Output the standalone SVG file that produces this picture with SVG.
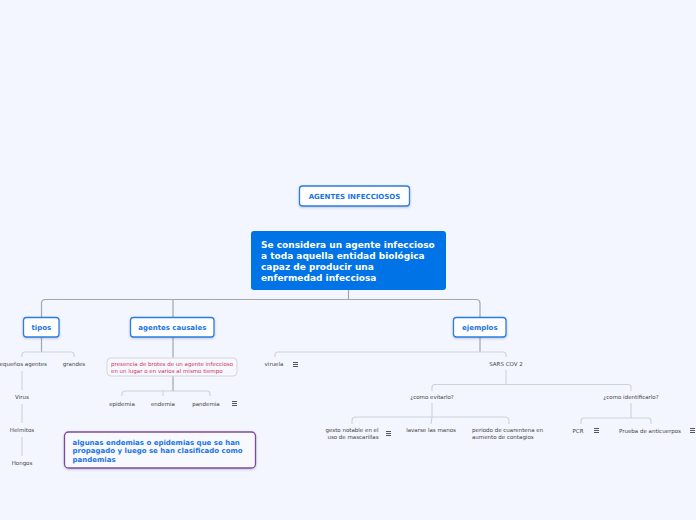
<svg xmlns="http://www.w3.org/2000/svg" width="696" height="520" viewBox="0 0 696 520">
<defs>
<filter id="sh" x="-10%" y="-20%" width="120%" height="150%">
<feDropShadow dx="0" dy="1" stdDeviation="0.8" flood-color="#334" flood-opacity="0.25"/>
</filter>
<g id="menu">
<path d="M0,0.5H5M0,2.5H5M0,4.5H5" stroke="#444" stroke-width="0.9" fill="none"/>
</g>
</defs>
<style>
.bg{fill:#F3F6FE}
.box{fill:#fff;stroke:#2A7DE1;stroke-width:1.3}
.bt{font-family:"DejaVu Sans",Verdana,sans-serif;font-weight:bold;font-size:7px;fill:#1B74E4;text-anchor:middle}
.mt{font-family:"DejaVu Sans",Verdana,sans-serif;font-weight:bold;font-size:9px;fill:#fff}
.st{font-family:"DejaVu Sans",Verdana,sans-serif;font-size:5.5px;fill:#444;text-anchor:middle}
.sl{font-family:"DejaVu Sans",Verdana,sans-serif;font-size:5.5px;fill:#444}
.pt{font-family:"DejaVu Sans",Verdana,sans-serif;font-size:5.5px;fill:#CC3360}
.ft{font-family:"DejaVu Sans",Verdana,sans-serif;font-weight:bold;font-size:7px;fill:#1B74E4}
.c1{fill:none;stroke:#A3A6AD;stroke-width:1.2}
.c2{fill:none;stroke:#CDD1DA;stroke-width:1.1}
</style>
<rect class="bg" x="0" y="0" width="696" height="520"/>

<g id="connectors">
<path class="c1" d="M348.5,290V299.5M41.5,317V303.5Q41.5,299.5 45.5,299.5H476Q480,299.5 480,303.5V317M173,299.5V317"/>
<path class="c1" d="M41.5,337V352M480,337V352M173,337V358M173,376V391"/>
<path class="c2" d="M22,357V355Q22,352 25,352H71Q74,352 74,355V357"/>
<path class="c2" d="M22,371V390M22,404V423M22,437V456"/>
<path class="c2" d="M122,396V394Q122,391 125,391H207Q210,391 210,394V396M163,391V396"/>
<path class="c2" d="M275,357V355Q275,352 278,352H503Q506,352 506,355V357"/>
<path class="c2" d="M506,370V384.5M432,391V387.5Q432,384.5 435,384.5H628Q631,384.5 631,387.5V391"/>
<path class="c2" d="M432,403V417M352,424V421Q352,417 356,417H505Q509,417 509,421V424M432,417Q431.5,420 431,424"/>
<path class="c2" d="M631,403V418M581,424V421Q581,418 584,418H648Q651,418 651,421V424"/>
</g>

<g id="title">
<rect class="box" x="299.5" y="186" width="110" height="20" rx="3" filter="url(#sh)"/>
<text class="bt" x="354.5" y="198.5">AGENTES INFECCIOSOS</text>
</g>

<g id="main">
<rect x="251" y="231" width="195" height="59" rx="3" fill="#0073E6"/>
<text class="mt" x="261" y="248">Se considera un agente infeccioso</text>
<text class="mt" x="261" y="259">a toda aquella entidad biológica</text>
<text class="mt" x="261" y="270">capaz de producir una</text>
<text class="mt" x="261" y="281">enfermedad infecciosa</text>
</g>

<g id="tipos">
<rect class="box" x="23.5" y="317.5" width="35.5" height="19.5" rx="3" filter="url(#sh)"/>
<text class="bt" x="41.3" y="329.5">tipos</text>
</g>
<g id="agentes-causales">
<rect class="box" x="130.5" y="317.5" width="83.5" height="19.5" rx="3" filter="url(#sh)"/>
<text class="bt" x="172.3" y="329.5">agentes causales</text>
</g>
<g id="ejemplos">
<rect class="box" x="453.5" y="317.5" width="52.5" height="19.5" rx="3" filter="url(#sh)"/>
<text class="bt" x="479.8" y="329.5">ejemplos</text>
</g>

<g id="pequenos-agentes"><text class="st" x="21.5" y="366">pequeños agentes</text></g>
<g id="grandes"><text class="st" x="74" y="366">grandes</text></g>
<g id="virus"><text class="st" x="22" y="399">Virus</text></g>
<g id="helmitos"><text class="st" x="22" y="432">Helmitos</text></g>
<g id="hongos"><text class="st" x="22" y="465">Hongos</text></g>

<g id="presencia">
<rect x="107" y="358" width="130" height="18" rx="4" fill="#F7F8FE" stroke="#D3D6DE" stroke-width="1"/>
<text class="pt" x="111" y="366">presencia de brotes de un agente infeccioso</text>
<text class="pt" x="111" y="373">en un lugar o en varios al mismo tiempo</text>
</g>
<g id="epidemia"><text class="st" x="122" y="405.5">epidemia</text></g>
<g id="endemia"><text class="st" x="163" y="405.5">endemia</text></g>
<g id="pandemia"><text class="st" x="206" y="405.5">pandemia</text><use href="#menu" x="232" y="401"/></g>

<g id="nota">
<rect x="64.5" y="432" width="191" height="36" rx="4" fill="#F8F9FE" stroke="#7E4C9C" stroke-width="1.3" filter="url(#sh)"/>
<text class="ft" x="72.5" y="444.5">algunas endemias o epidemias que se han</text>
<text class="ft" x="72.5" y="453">propagado y luego se han clasificado como</text>
<text class="ft" x="72.5" y="461.5">pandemias</text>
</g>

<g id="viruela"><text class="st" x="274" y="366">viruela</text><use href="#menu" x="293" y="362"/></g>
<g id="sars"><text class="st" x="506" y="366">SARS COV 2</text></g>
<g id="como-evitarlo"><text class="st" x="432" y="399">¿como evitarlo?</text></g>
<g id="como-identificarlo"><text class="st" x="631" y="399">¿como identificarlo?</text></g>
<g id="gesto"><text class="st" x="352" y="432">gesto notable en el</text><text class="st" x="353" y="439">uso de mascarillas</text><use href="#menu" x="386" y="431"/></g>
<g id="lavarse"><text class="st" x="431" y="432">lavarse las manos</text></g>
<g id="periodo"><text class="sl" x="472" y="432">periodo de cuarentena en</text><text class="sl" x="472" y="439">aumento de contagios</text></g>
<g id="pcr"><text class="st" x="578" y="432.5">PCR</text><use href="#menu" x="594" y="428"/></g>
<g id="prueba"><text class="st" x="650" y="432.5">Prueba de anticuerpos</text><use href="#menu" x="690" y="428"/></g>
</svg>
